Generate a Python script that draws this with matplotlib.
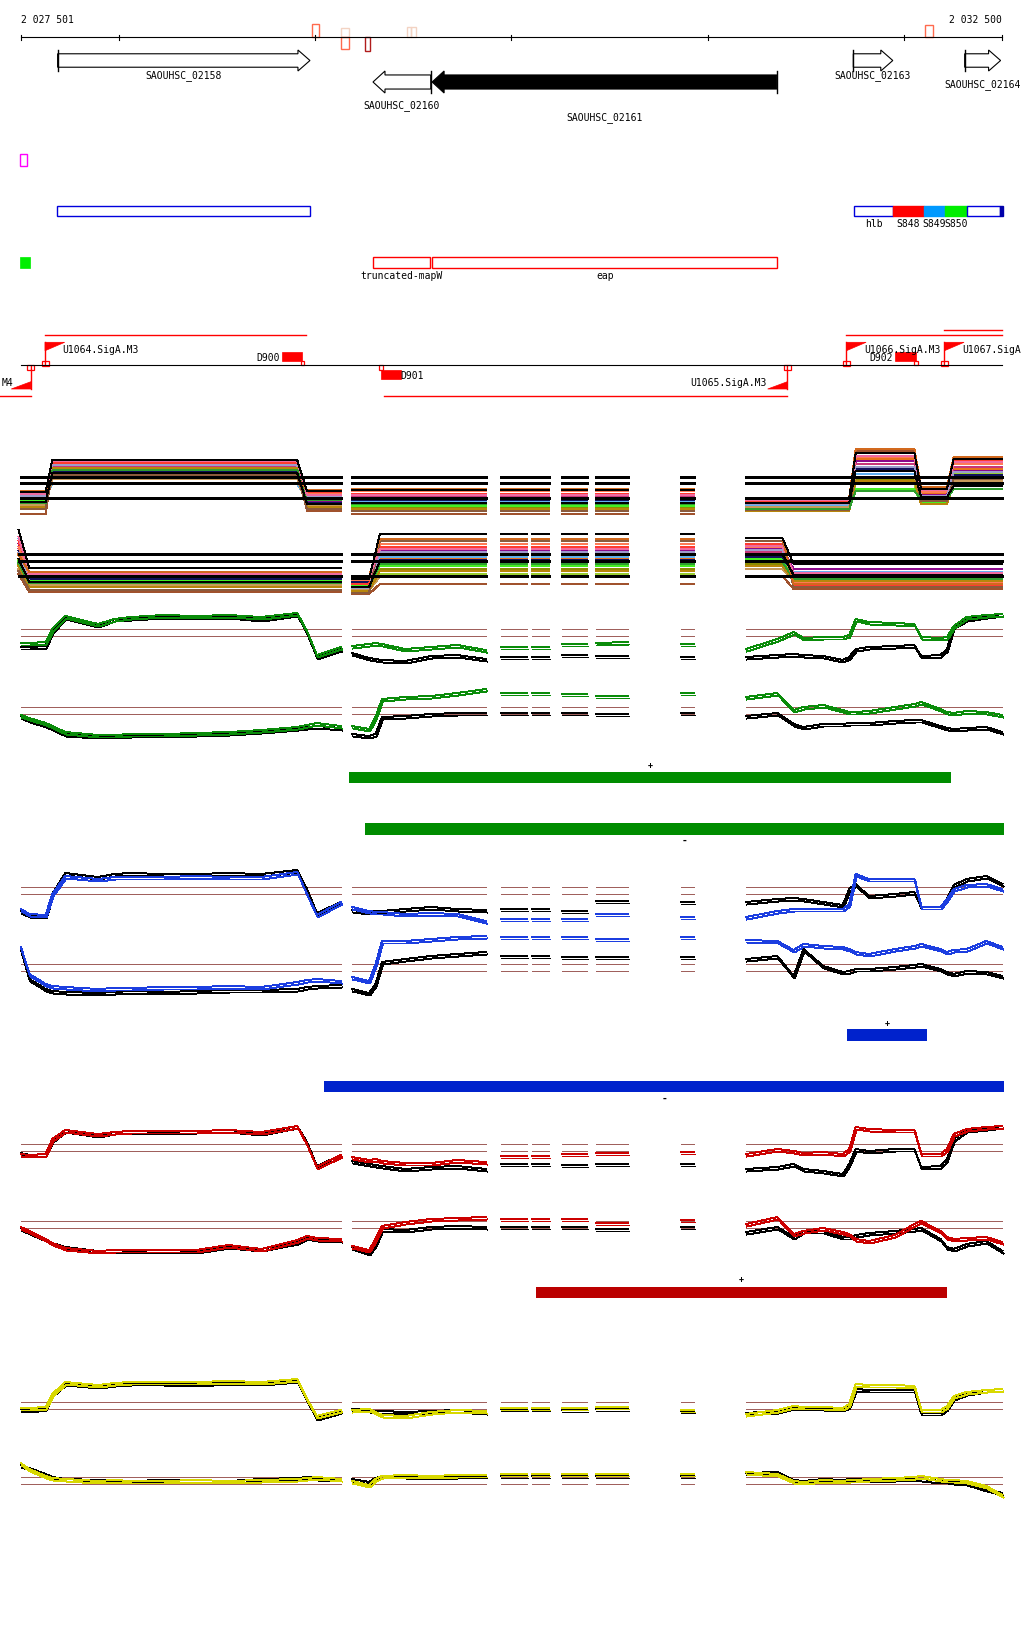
import numpy as np
import matplotlib
matplotlib.use('Agg')
import matplotlib.pyplot as plt
from matplotlib.patches import Rectangle, Polygon
from matplotlib.transforms import offset_copy

# ---------------- data ----------------
START, END = 2027501, 2032500
TICKS = [2028000, 2029000, 2030000, 2031000, 2032000]

GENE_NAMES = ['SAOUHSC_02158', 'SAOUHSC_02160', 'SAOUHSC_02161', 'SAOUHSC_02163', 'SAOUHSC_02164']
GENE_START = [2027689, 2029295, 2029596, 2031741, 2032308]
GENE_END = [2028974, 2029589, 2031351, 2031942, 2032491]
GENE_STRAND = ['+', '-', '-', '+', '+']
GENE_FILLED = [False, False, True, False, False]

MARK_START = [2028985, 2029132, 2029132, 2029256, 2029468, 2029491, 2032108]
MARK_END = [2029018, 2029173, 2029173, 2029278, 2029491, 2029514, 2032149]
MARK_SIDE = ['up', 'up', 'down', 'down', 'up', 'up', 'up']
MARK_SCORE = [13, 9, 12, 14, 10, 10, 12]
MARK_COLOR = ['#ff6a4d', '#f3d3c3', '#ff6a4d', '#b01c1c', '#f3d3c3', '#f3d3c3', '#ff6a4d']

MAGENTA_FEAT = [(2027499, 2027535)]

BLUE_NAMES = ['', 'hlb', 'S848', 'S849', 'S850', '', '']
BLUE_START = [2027688, 2031746, 2031943, 2032102, 2032208, 2032318, 2032487]
BLUE_END = [2028972, 2031943, 2032102, 2032208, 2032318, 2032487, 2032505]
BLUE_FILL = [None, None, '#ff0000', '#0099ff', '#00ee00', None, '#0000aa']

RED_NAMES = ['truncated-mapW', 'eap']
RED_START = [2029295, 2029598]
RED_END = [2029587, 2031354]
GREEN_FEAT = [(2027499, 2027549)]

# labels as they appear in the view (the outer two are cut by the view edges)
TSS_NAMES = ['M4', 'U1064.SigA.M3', 'U1065.SigA.M3', 'U1066.SigA.M3', 'U1067.SigA']
TSS_POS = [2027553, 2027625, 2031405, 2031706, 2032205]
TSS_STRAND = ['-', '+', '-', '+', '+']
TX_END = [2027390, 2028955, 2029353, 2032500, 2032500]

TERM_NAMES = ['D900', 'D901', 'D902']
TERM_START = [2028833, 2029335, 2031953]
TERM_END = [2028935, 2029437, 2032060]
TERM_STRAND = ['+', '-', '+']

GREEN_PLUS = (2029172, 2032239)
GREEN_MINUS = (2029254, 2032510)
BLUE_PLUS = (2031710, 2032115)
BLUE_MINUS = (2029046, 2032510)
RED_PLUS = (2030126, 2032218)

# multi-sample track (many conditions)
A_COLORS = ['#e8731c', '#a0522d', '#8c8c00', '#9acd32', '#44ee22', '#8b0a8b', '#c8377a', '#60b0f0',
            '#10105a', '#ff3b2f', '#ff7a55', '#c89a5a', '#9c9ccc', '#b8860b', '#8b5a3c', '#2e9e2e',
            '#f06aa0', '#d2691e']
A_UP_POS = [[2027501, 2027628, 2027662, 2028909, 2028959, 2029132], [2029188, 2029870],
            [2029947, 2030190], [2030256, 2030384], [2030430, 2030596], [2030863, 2030928],
            [2031194, 2031720, 2031753, 2032052, 2032086, 2032218, 2032252, 2032500]]
A_UP_IDX = [[0, 0, 1, 1, 2, 2], [3, 3], [3, 3], [3, 3], [3, 3], [3, 3], [4, 4, 5, 5, 6, 6, 7, 7]]
A_UP_LEVELS = [
    [20, 55, 22, 20, 14, 60, 25, 50], [5, 50, 8, 5, 10, 68, 20, 60], [15, 52, 15, 12, 9, 40, 18, 40],
    [18, 57, 20, 14, 12, 35, 16, 45], [19, 48, 17, 13, 11, 30, 17, 42], [22, 50, 18, 20, 15, 58, 24, 48],
    [24, 53, 21, 22, 16, 55, 28, 52], [21, 35, 20, 18, 13, 45, 22, 35], [17, 47, 16, 19, 18, 50, 21, 44],
    [26, 56, 27, 25, 17, 66, 30, 58], [27, 45, 25, 28, 20, 62, 27, 55], [14, 40, 13, 16, 12, 42, 19, 38],
    [23, 54, 23, 21, 15, 52, 23, 47], [12, 51, 12, 10, 8, 38, 15, 36], [10, 44, 10, 8, 9, 48, 18, 40],
    [16, 49, 19, 15, 10, 28, 20, 30], [25, 58, 24, 24, 19, 63, 29, 57], [28, 42, 29, 30, 21, 70, 32, 62]]
A_UP_BLACK = [[27, 59, 28, 29, 20, 66, 30, 60], [17, 46, 15, 16, 16, 48, 22, 33]]
A_UP_THR = [41.7, 36.0, 20.7]

A_DN_POS = [[2027490, 2027545, 2029132], [2029188, 2029275, 2029330, 2029870], [2029947, 2030081],
            [2030106, 2030190], [2030256, 2030384], [2030430, 2030596], [2030863, 2030928],
            [2031194, 2031380, 2031437, 2032500]]
A_DN_IDX = [[0, 1, 1], [2, 2, 3, 3], [3, 3], [3, 3], [3, 3], [3, 3], [3, 3], [4, 4, 5, 5]]
A_DN_LEVELS = [
    [45, 18, 12, 40, 45, 20], [25, 7, 5, 15, 23, 10], [35, 15, 10, 30, 35, 17], [40, 20, 14, 25, 38, 22],
    [38, 19, 13, 33, 40, 21], [55, 22, 18, 48, 50, 30], [50, 21, 16, 45, 47, 24], [60, 26, 20, 42, 44, 27],
    [48, 20, 17, 39, 42, 25], [58, 23, 15, 52, 55, 14], [52, 24, 19, 55, 52, 16], [30, 14, 9, 22, 30, 19],
    [46, 17, 11, 47, 49, 23], [33, 12, 8, 28, 33, 18], [28, 9, 6, 58, 58, 12], [36, 16, 12, 35, 37, 20],
    [62, 25, 21, 50, 53, 26], [44, 27, 22, 60, 61, 15]]
A_DN_BLACK = [[69, 31, 20, 65, 61, 35], [40, 17, 12, 38, 45, 24]]
A_DN_THR = [44.7, 37.7, 22.7]

# two-condition tracks, shared sampling positions (gaps between segments)
POS = [[2027501, 2027545, 2027628, 2027662, 2027728, 2027895, 2027978, 2028061, 2028227, 2028394,
        2028560, 2028726, 2028909, 2028959, 2029009, 2029132],
       [2029188, 2029275, 2029308, 2029341, 2029458, 2029591, 2029724, 2029870],
       [2029947, 2030081], [2030106, 2030190], [2030256, 2030384], [2030430, 2030596], [2030863, 2030928],
       [2031194, 2031354, 2031437, 2031487, 2031587, 2031687, 2031720, 2031753, 2031820, 2031953,
        2032052, 2032086, 2032185, 2032218, 2032252, 2032318, 2032418, 2032500]]

B_UP_COL = [[26, 26, 27, 40, 53, 45, 50, 52, 54, 53, 54, 52, 56, 38, 14, 22], [23, 25, 26, 25, 20, 22, 24, 19],
            [22, 22], [22, 22], [25, 25], [26, 27], [25, 25],
            [20, 30, 37, 31, 32, 32, 34, 50, 47, 46, 45, 32, 31, 32, 43, 52, 54, 55]]
B_UP_BLK = [[22, 22, 23, 38, 52, 44, 50, 51, 53, 52, 53, 50, 55, 36, 12, 20], [16, 11, 10, 9, 8, 13, 14, 10],
            [12, 12], [12, 12], [14, 14], [13, 13], [12, 12],
            [12, 14, 15, 14, 13, 9, 12, 20, 22, 23, 24, 13, 14, 20, 43, 50, 53, 55]]
B_DN_COL = [[29, 26, 21, 18, 12, 9, 9, 10, 10, 11, 12, 14, 17, 19, 21, 18], [18, 15, 27, 45, 47, 48, 51, 55],
            [51, 51], [51, 51], [50, 50], [48, 48], [51, 51],
            [47, 51, 34, 37, 39, 34, 32, 32, 33, 37, 40, 42, 35, 32, 31, 33, 32, 29]]
B_DN_BLK = [[28, 24, 19, 16, 10, 8, 8, 9, 9, 10, 11, 13, 16, 17, 18, 16], [10, 8, 10, 27, 28, 30, 31, 31],
            [31, 31], [31, 31], [31, 31], [30, 30], [31, 31],
            [28, 31, 20, 17, 20, 20, 21, 21, 21, 23, 24, 24, 18, 16, 15, 16, 17, 12]]

C_UP_COL = [[20, 15, 14, 35, 53, 50, 52, 52, 52, 53, 52, 52, 57, 35, 14, 27], [22, 18, 17, 17, 15, 16, 15, 8],
            [10, 10], [10, 10], [10, 10], [15, 15], [12, 12],
            [12, 18, 20, 20, 20, 20, 25, 55, 50, 50, 50, 22, 22, 30, 40, 44, 45, 40]]
C_UP_BLK = [[18, 14, 13, 35, 56, 52, 55, 56, 55, 55, 56, 55, 59, 40, 16, 27], [19, 17, 18, 18, 20, 22, 20, 19],
            [20, 20], [20, 20], [18, 18], [28, 28], [27, 27],
            [27, 30, 31, 30, 27, 24, 40, 45, 33, 35, 37, 22, 22, 30, 44, 50, 53, 45]]
C_DN_COL = [[52, 25, 15, 13, 12, 10, 11, 11, 12, 12, 13, 12, 17, 19, 20, 18], [22, 18, 35, 58, 58, 60, 62, 63],
            [62, 62], [62, 62], [62, 62], [60, 60], [62, 62],
            [59, 58, 49, 55, 53, 52, 50, 47, 45, 50, 53, 55, 50, 47, 49, 50, 58, 52]]
C_DN_BLK = [[50, 20, 10, 8, 7, 6, 7, 8, 7, 8, 9, 9, 10, 12, 13, 14], [10, 6, 15, 37, 40, 43, 45, 47],
            [43, 43], [43, 43], [42, 42], [42, 42], [42, 42],
            [40, 43, 23, 50, 33, 27, 28, 30, 30, 32, 34, 35, 30, 27, 25, 28, 27, 23]]

D_UP_COL = [[30, 29, 30, 45, 54, 50, 52, 53, 53, 53, 54, 52, 58, 40, 17, 29], [27, 24, 25, 23, 21, 21, 24, 22],
            [28, 28], [28, 28], [30, 30], [31, 31], [32, 32],
            [30, 35, 33, 31, 32, 30, 35, 57, 55, 54, 54, 30, 30, 35, 50, 55, 57, 58]]
D_UP_BLK = [[31, 29, 30, 44, 54, 49, 52, 53, 52, 53, 54, 51, 58, 42, 18, 29], [23, 20, 19, 18, 15, 17, 18, 15],
            [20, 20], [20, 20], [19, 19], [20, 20], [20, 20],
            [15, 17, 20, 15, 13, 10, 20, 35, 33, 35, 35, 17, 18, 25, 45, 54, 56, 58]]
D_DN_COL = [[37, 33, 25, 21, 16, 13, 14, 14, 14, 14, 19, 15, 24, 28, 26, 25], [18, 14, 25, 38, 42, 45, 46, 47],
            [45, 45], [45, 45], [45, 45], [41, 41], [44, 44],
            [40, 47, 30, 33, 36, 32, 30, 25, 23, 29, 40, 43, 33, 27, 25, 26, 27, 22]]
D_DN_BLK = [[36, 32, 25, 21, 17, 13, 14, 13, 14, 13, 18, 15, 22, 27, 25, 24], [17, 11, 20, 35, 34, 37, 38, 37],
            [37, 37], [37, 37], [37, 37], [35, 35], [37, 37],
            [32, 37, 27, 33, 33, 27, 27, 29, 31, 33, 35, 36, 25, 17, 15, 20, 23, 13]]

E_UP_COL = [[26, 26, 27, 40, 52, 49, 51, 52, 52, 52, 53, 52, 55, 35, 18, 24], [24, 25, 22, 19, 18, 22, 24, 23],
            [26, 26], [26, 26], [26, 26], [27, 27], [24, 24],
            [20, 24, 28, 27, 27, 26, 30, 50, 49, 49, 48, 24, 24, 28, 38, 42, 44, 45]]
E_UP_BLK = [[25, 24, 26, 40, 51, 48, 50, 51, 51, 50, 52, 51, 54, 34, 16, 23], [25, 24, 23, 23, 22, 23, 24, 22],
            [25, 25], [25, 25], [24, 24], [25, 25], [23, 23],
            [21, 23, 27, 26, 26, 25, 28, 45, 44, 44, 44, 21, 21, 26, 36, 41, 44, 45]]
E_DN_COL = [[46, 40, 33, 31, 30, 28, 29, 28, 28, 29, 28, 29, 30, 31, 32, 30], [28, 24, 30, 33, 34, 33, 34, 34],
            [35, 35], [35, 35], [35, 35], [35, 35], [35, 35],
            [37, 35, 28, 27, 29, 28, 29, 29, 30, 31, 32, 33, 30, 29, 29, 28, 23, 14]]
E_DN_BLK = [[44, 41, 35, 32, 30, 29, 28, 28, 29, 29, 28, 30, 31, 32, 31, 30], [30, 27, 31, 33, 33, 32, 33, 33],
            [33, 33], [33, 33], [33, 33], [33, 33], [33, 33],
            [36, 37, 29, 28, 30, 29, 30, 30, 29, 30, 31, 30, 28, 28, 27, 26, 20, 16]]

THR = {'B': ([40.0, 32.7], [36.7, 29.7]), 'C': ([41.7, 35.0], [34.7, 27.7]),
       'D': ([39.7, 32.7], [42.7, 35.7]), 'E': ([32.3, 25.0], [32.0, 25.0])}

# ---------------- drawing ----------------
W, H = 1024, 1640
X0, X1 = 2027395.6, 2032610.2
BP = (X1 - X0) / W          # bp per pixel
MONO = 'DejaVu Sans Mono'
FS = 7
BROWN = '#a0605c'
LW = 0.7                    # one pixel

fig = plt.figure(figsize=(W / 100, H / 100), dpi=100)
ann = fig.add_axes([0, 0, 1, 1])
ann.set_xlim(X0, X1)
ann.set_ylim(H, 0)
ann.axis('off')


def flat(segs, idx=None, levels=None):
    out = []
    for i, s in enumerate(segs):
        if i:
            out.append(np.nan)
        if idx is None:
            out.extend(s)
        else:
            out.extend(levels[j] for j in idx[i])
    return np.array(out, dtype=float)


def track_ax(top, bottom):
    ax = fig.add_axes([0, 1 - bottom / H, 1, (bottom - top) / H])
    ax.set_xlim(X0, X1)
    ax.set_ylim(0, bottom - top)
    ax.axis('off')
    return ax


# ruler
ann.plot([START, END], [38.3, 38.3], color='black', lw=0.8)
for t in [START] + TICKS + [END]:
    ann.plot([t, t], [35.8, 40.8], color='black', lw=0.8)
ann.text(START, 20, f'{START:,}'.replace(',', ' '), fontsize=FS, family=MONO, ha='left', va='center')
ann.text(END, 20, f'{END:,}'.replace(',', ' '), fontsize=FS, family=MONO, ha='right', va='center')
for s, e, side, h, c in zip(MARK_START, MARK_END, MARK_SIDE, MARK_SCORE, MARK_COLOR):
    y0 = 38.3 - h if side == 'up' else 38.3
    ann.add_patch(Rectangle((s, y0), e - s, h, fill=False, ec=c, lw=1.0))

# genes
ROW_TOP = [51, 72]
ROW_BOT = [72, 94]
GENE_ROW = [0, 1, 1, 0, 0]
GENE_LABEL_Y = [76, 106, 118, 76, 85]
HEAD = 12 * BP
for name, s, e, st, fl, r, ly in zip(GENE_NAMES, GENE_START, GENE_END, GENE_STRAND, GENE_FILLED,
                                     GENE_ROW, GENE_LABEL_Y):
    top, bot = ROW_TOP[r], ROW_BOT[r]
    mid = (top + bot) / 2
    half = (bot - top) * 0.32
    if st == '+':
        pts = [(s, mid - half), (e - HEAD, mid - half), (e - HEAD, top), (e, mid), (e - HEAD, bot),
               (e - HEAD, mid + half), (s, mid + half)]
        bar = s
    else:
        pts = [(e, mid - half), (s + HEAD, mid - half), (s + HEAD, top), (s, mid), (s + HEAD, bot),
               (s + HEAD, mid + half), (e, mid + half)]
        bar = e
    ann.add_patch(Polygon(pts, closed=True, fc='black' if fl else 'white', ec='black', lw=0.8))
    ann.plot([bar, bar], [top, bot], color='black', lw=1.0)
    ann.text((s + e) / 2, ly, name, fontsize=FS, family=MONO, ha='center', va='center')

# feature rows
for s, e in MAGENTA_FEAT:
    ann.add_patch(Rectangle((s, 155), e - s, 11.7, fill=False, ec='#ff00ff', lw=1.0))
for name, s, e, f in zip(BLUE_NAMES, BLUE_START, BLUE_END, BLUE_FILL):
    ann.add_patch(Rectangle((s, 207), e - s, 10.3, fc=f if f else 'white', ec=f if f else '#0000dd',
                            lw=1.0))
    if name:
        ann.text((s + e) / 2, 224.3, name, fontsize=FS, family=MONO, ha='center', va='center')
for s, e in GREEN_FEAT:
    ann.add_patch(Rectangle((s, 258), e - s, 10.7, fc='#00ee00', ec='#00ee00', lw=0.5))
for name, s, e in zip(RED_NAMES, RED_START, RED_END):
    ann.add_patch(Rectangle((s, 258), e - s, 10.7, fill=False, ec='#ff0000', lw=1.0))
    ann.text((s + e) / 2, 276, name, fontsize=FS, family=MONO, ha='center', va='center')

# transcription units
BASE = 366.3
FLAG = 100
BOX = 18
TX_Y = {'+': [336, 336, 331.3], '-': [397.3, 397.3]}
ann.plot([START, END], [BASE, BASE], color='black', lw=0.8)
ci = {'+': 0, '-': 0}
for name, p, st, te in zip(TSS_NAMES, TSS_POS, TSS_STRAND, TX_END):
    ty = TX_Y[st][ci[st]]
    ci[st] += 1
    if st == '+':
        ann.plot([p, p], [343.3, BASE - 4], color='red', lw=1.0)
        ann.add_patch(Polygon([(p, 343.3), (p + FLAG, 343.3), (p, 351.7)], closed=True, fc='red', ec='red', lw=0.5))
        by = BASE - 4
        ann.plot([p, te], [ty, ty], color='red', lw=1.0)
        ann.text(p + FLAG - 2 * BP, 350, name, fontsize=FS, family=MONO, ha='left', va='center')
    else:
        ann.plot([p, p], [BASE + 4.4, 390], color='red', lw=1.0)
        ann.add_patch(Polygon([(p, 390), (p - FLAG, 390), (p, 382.7)], closed=True, fc='red', ec='red', lw=0.5))
        by = BASE
        ann.plot([te, p], [ty, ty], color='red', lw=1.0)
        ann.text(max(p - FLAG - 1.5 * BP, X0 + 13 * BP), 383.3, name, fontsize=FS, family=MONO,
                 ha='right', va='center')
    for bx in (p - BOX, p):
        ann.add_patch(Rectangle((bx, by), BOX, 4.4, fc='white', ec='red', lw=0.9))

for name, s, e, st in zip(TERM_NAMES, TERM_START, TERM_END, TERM_STRAND):
    if st == '+':
        ann.add_patch(Rectangle((s, 353.3), e - s, 8.7, fc='red', ec='red', lw=0.5))
        ann.add_patch(Rectangle((e - BOX / 2, BASE - 4), BOX, 4, fc='white', ec='red', lw=0.9))
        ann.text(s - 2 * BP, 357.7, name, fontsize=FS, family=MONO, ha='right', va='center')
    else:
        ann.add_patch(Rectangle((s, 371), e - s, 9, fc='red', ec='red', lw=0.5))
        ann.add_patch(Rectangle((s - BOX / 2, BASE), BOX, 4.4, fc='white', ec='red', lw=0.9))
        ann.text(e, 375.7, name, fontsize=FS, family=MONO, ha='left', va='center')

# region bars with strand marks
for (s, e), y0, hgt, c, lab, ly in [
        (GREEN_PLUS, 772.7, 11.3, '#008c00', '+', 766),
        (GREEN_MINUS, 824, 12, '#008c00', '-', 840.7),
        (BLUE_PLUS, 1030, 12, '#0022cc', '+', 1023.3),
        (BLUE_MINUS, 1082, 11, '#0022cc', '-', 1098.3),
        (RED_PLUS, 1287.7, 11.3, '#bb0000', '+', 1280)]:
    ann.add_patch(Rectangle((s, y0), e - s, hgt, fc=c, ec=c, lw=0))
    ann.text((s + e) / 2, ly, lab, fontsize=6 if lab == '+' else 7, fontweight='bold',
             family=MONO, ha='center', va='center')

# multi-sample track
for top, bot, pos, idx, levels, blacks, thr in [
        (450, 520, A_UP_POS, A_UP_IDX, A_UP_LEVELS, A_UP_BLACK, A_UP_THR),
        (525, 600, A_DN_POS, A_DN_IDX, A_DN_LEVELS, A_DN_BLACK, A_DN_THR)]:
    ax = track_ax(top, bot)
    x = flat(pos)
    for lv, c in zip(levels, A_COLORS):
        ax.plot(x, flat(pos, idx, lv), color=c, lw=LW, clip_on=False, antialiased=False)
    for lv in blacks:
        ax.plot(x, flat(pos, idx, lv), color='black', lw=LW, clip_on=False, antialiased=False)
    for seg in pos:
        for t in thr:
            ax.plot([seg[0], seg[-1]], [t, t], color='black', lw=1.0, zorder=5, antialiased=False)

# two-condition tracks
for key, col, (ut, ub), (dt, db), ucol, ublk, dcol, dblk in [
        ('B', '#0a8c0a', (600, 670), (675, 745), B_UP_COL, B_UP_BLK, B_DN_COL, B_DN_BLK),
        ('C', '#1c3ee0', (865, 930), (930, 1000), C_UP_COL, C_UP_BLK, C_DN_COL, C_DN_BLK),
        ('D', '#cc0000', (1120, 1185), (1205, 1265), D_UP_COL, D_UP_BLK, D_DN_COL, D_DN_BLK),
        ('E', '#d8d800', (1370, 1435), (1450, 1510), E_UP_COL, E_UP_BLK, E_DN_COL, E_DN_BLK)]:
    for (top, bot), cvals, bvals, thr in [((ut, ub), ucol, ublk, THR[key][0]),
                                          ((dt, db), dcol, dblk, THR[key][1])]:
        ax = track_ax(top, bot)
        x = flat(POS)
        for seg in POS:
            for t in thr:
                ax.plot([seg[0], seg[-1]], [t, t], color=BROWN, lw=LW, zorder=1, antialiased=False)
        rep = offset_copy(ax.transData, fig=fig, x=1, y=-2.5, units='dots')
        for vals, c in [(bvals, 'black'), (cvals, col)]:
            ax.plot(x, flat(vals), color=c, lw=LW, zorder=3, clip_on=False, antialiased=False)
            ax.plot(x, flat(vals), color=c, lw=LW, zorder=3, transform=rep, clip_on=False,
                    antialiased=False)

fig.savefig('out.png', dpi=100)
